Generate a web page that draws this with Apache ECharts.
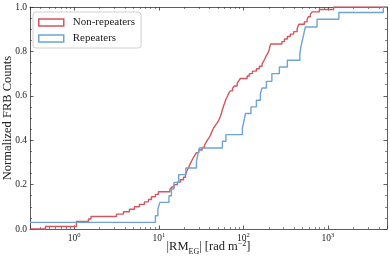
<!DOCTYPE html>
<html>
<head>
<meta charset="utf-8">
<script src="https://cdn.jsdelivr.net/npm/echarts@6/dist/echarts.min.js"></script>
<style>
html,body{margin:0;padding:0;background:#fff;}
#c{width:390px;height:257px;}
</style>
</head>
<body>
<div id="c"></div>
<script>
// |RM_EG| step positions (rad m^-2) and cumulative fractions
var nonRepRM = [0.3, 0.457, 1.063, 1.474, 1.578, 3.16, 3.82, 4.50, 5.16, 5.91, 6.77, 7.55, 8.19, 9.13, 9.91,
  13.55, 14.3, 15.3, 16.6, 18.0, 19.6, 20.7, 21.2, 21.8, 22.6, 23.2, 24.0, 24.8, 25.7, 26.8, 27.9, 29.7,
  32.5, 34.7, 36.1, 37.6, 39.2, 40.8, 41.9, 43.1, 44.6, 46.7, 49.0, 51.1, 52.6, 54.0, 55.1, 56.1, 57.3,
  58.6, 60.2, 61.4, 63.1, 65.3, 67.1, 70.3, 74.3, 78.4, 84.4, 88.1, 92.3, 110.8, 117.9, 128, 142.7, 154.8,
  166.6, 174.1, 179.8, 184.8, 192.5, 199.4, 203.3, 206.0, 210.6, 285.6, 305.8, 331.7, 360.0, 393.8, 432.0,
  441.6, 453.6, 527, 567, 587, 620, 650, 793, 1170, 5000];
var nonRepCDF = [0, 0.011, 0.034, 0.045, 0.056, 0.067, 0.078, 0.089, 0.100, 0.111, 0.122, 0.133, 0.145, 0.156, 0.168,
  0.178, 0.189, 0.200, 0.211, 0.222, 0.233, 0.245, 0.256, 0.267, 0.278, 0.289, 0.300, 0.311, 0.322, 0.333, 0.344, 0.356,
  0.367, 0.378, 0.389, 0.400, 0.411, 0.422, 0.433, 0.444, 0.456, 0.467, 0.478, 0.489, 0.500, 0.511, 0.522, 0.533, 0.544,
  0.556, 0.567, 0.578, 0.589, 0.600, 0.611, 0.622, 0.633, 0.644, 0.656, 0.667, 0.678, 0.689, 0.700, 0.711, 0.722, 0.733,
  0.744, 0.756, 0.767, 0.778, 0.789, 0.800, 0.811, 0.822, 0.833, 0.844, 0.856, 0.867, 0.878, 0.889, 0.900,
  0.911, 0.922, 0.933, 0.944, 0.956, 0.967, 0.978, 0.989, 1.0, 1.0];

var repRM = [0.3, 9.13, 9.77, 10.3, 13.2, 14.1, 15.1, 17.2, 20.9, 27.9, 29.0, 30.2, 56.6, 62.2, 97.5, 101.5, 105.8,
  122.9, 142.7, 159.1, 166.6, 187.4, 217.6, 266.8, 331.7, 466.4, 479, 499, 520, 541.5, 744.6, 1348, 4524, 5000];
var repCDF = [0.03, 0.06, 0.09, 0.12, 0.15, 0.18, 0.21, 0.245, 0.275, 0.305, 0.335, 0.365, 0.395, 0.425, 0.455, 0.485, 0.52,
  0.55, 0.58, 0.61, 0.635, 0.665, 0.70, 0.73, 0.76, 0.79, 0.82, 0.85, 0.88, 0.91, 0.945, 0.975, 1.0, 1.0];

var seriesNames = ['Non-repeaters', 'Repeaters'];
var xMin = 0.3, xMax = 5000;

var RED = '#d2565d', BLUE = '#6fa3d3';
var FONT = '"Liberation Serif", "DejaVu Serif", serif';

function zip(a, b) { return a.map(function (v, i) { return [v, b[i]]; }); }

function xLabel(v) {
  var l = Math.log10(v), r = Math.round(l);
  if (Math.abs(l - r) < 1e-6) return '{b|10}{s|' + r + '}';
  return '';
}

var axisLineStyle = { show: true, onZero: false, lineStyle: { color: '#333', width: 0.8 } };

function xAx(pos, showLabel) {
  return {
    type: 'log', logBase: 10, min: xMin, max: xMax, position: pos,
    axisLine: axisLineStyle, splitLine: { show: false },
    axisTick: { show: true, inside: true, length: 3.5, lineStyle: { color: '#333', width: 0.8 } },
    minorTick: { show: true, splitNumber: 9, length: 2, lineStyle: { color: '#333', width: 0.6 } },
    minorSplitLine: { show: false },
    axisLabel: {
      show: showLabel, formatter: xLabel, margin: 3, showMinLabel: false, showMaxLabel: false,
      rich: {
        b: { fontFamily: FONT, fontSize: 9.5, color: '#222', lineHeight: 11, verticalAlign: 'bottom' },
        s: { fontFamily: FONT, fontSize: 6.5, color: '#222', lineHeight: 11, verticalAlign: 'top' }
      }
    },
    name: showLabel ? '{a||RM}{sub|EG}{a|| [rad m}{sup|\u22122}{a|]}' : '',
    nameLocation: 'middle', nameGap: 10.5, nameMoveOverlap: false,
    nameTextStyle: {
      rich: {
        a: { fontFamily: FONT, fontSize: 12.5, color: '#222', lineHeight: 14, verticalAlign: 'bottom' },
        sub: { fontFamily: FONT, fontSize: 8, color: '#222', lineHeight: 14, verticalAlign: 'bottom', padding: [0, 0, -2, 0] },
        sup: { fontFamily: FONT, fontSize: 8, color: '#222', lineHeight: 14, verticalAlign: 'top' }
      }
    }
  };
}

function yAx(pos, showLabel) {
  return {
    type: 'value', min: 0, max: 1, interval: 0.2, position: pos,
    axisLine: axisLineStyle, splitLine: { show: false },
    axisTick: { show: true, inside: true, length: 3.5, lineStyle: { color: '#333', width: 0.8 } },
    minorTick: { show: true, splitNumber: 4, length: 2, lineStyle: { color: '#333', width: 0.6 } },
    axisLabel: {
      show: showLabel, margin: 3, fontFamily: FONT, fontSize: 9.5, color: '#222',
      formatter: function (v) { return v.toFixed(1); }
    },
    name: showLabel ? 'Normalized FRB Counts' : '',
    nameLocation: 'middle', nameGap: 16, nameMoveOverlap: false,
    nameTextStyle: { fontFamily: FONT, fontSize: 12.5, color: '#222' }
  };
}

var chart = echarts.init(document.getElementById('c'), null, { renderer: 'canvas' });
chart.setOption({
  animation: false,
  backgroundColor: '#fff',
  grid: { left: 30, right: 3, top: 7, bottom: 28, containLabel: false, outerBoundsMode: 'none' },
  xAxis: [xAx('bottom', true), xAx('top', false)],
  yAxis: [yAx('left', true), yAx('right', false)],
  legend: {
    left: 33, top: 12, orient: 'vertical', icon: 'rect',
    itemWidth: 25, itemHeight: 7, itemGap: 5,
    padding: [5, 6, 4, 5],
    backgroundColor: '#fff', borderColor: '#d0d0d0', borderWidth: 1, borderRadius: 3,
    textStyle: { fontFamily: FONT, fontSize: 11, color: '#222', padding: [0, 0, 0, 4] },
    data: [
      { name: seriesNames[0], itemStyle: { color: 'rgba(0,0,0,0)', borderColor: RED, borderWidth: 1.5 } },
      { name: seriesNames[1], itemStyle: { color: 'rgba(0,0,0,0)', borderColor: BLUE, borderWidth: 1.5 } }
    ]
  },
  series: [
    {
      name: seriesNames[0], type: 'line', step: 'end', showSymbol: false, symbol: 'none',
      data: zip(nonRepRM, nonRepCDF), color: RED, clip: true,
      lineStyle: { color: RED, width: 1.4 }
    },
    {
      name: seriesNames[1], type: 'line', step: 'end', showSymbol: false, symbol: 'none',
      data: zip(repRM, repCDF), color: BLUE, clip: true,
      lineStyle: { color: BLUE, width: 1.4 }
    }
  ]
});
</script>
</body>
</html>
